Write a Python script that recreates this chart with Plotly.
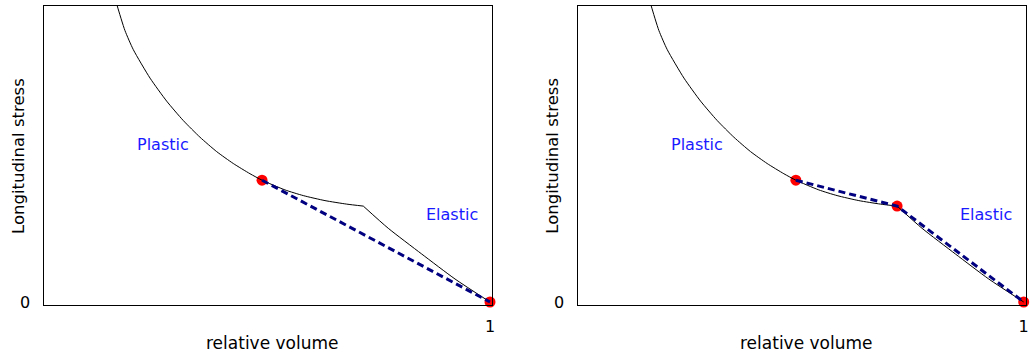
import plotly.graph_objects as go

# Stress–volume Hugoniot: plastic branch (compressed side) and elastic branch
plastic_volume = [0.6617, 0.6655, 0.6724, 0.6799, 0.6949, 0.7098, 0.7247, 0.7397, 0.7547,
                  0.7696, 0.7846, 0.7954, 0.8160, 0.8324, 0.8519, 0.8714, 0.8863]
plastic_stress = [1.0541, 1.0, 0.9169, 0.8524, 0.7564, 0.6787, 0.6132, 0.5568, 0.5081,
                  0.4679, 0.4334, 0.4115, 0.3787, 0.3595, 0.3426, 0.3307, 0.3240]

elastic_volume = [0.8863, 0.9087, 0.9387, 0.9686, 1.0]
elastic_stress = [0.3240, 0.2490, 0.1622, 0.0777, 0.0]

# Named states on the Hugoniot
initial_state = (1.0, 0.0)
yield_state = (0.8863, 0.3240)
shocked_state = (0.7954, 0.4115)

# Rayleigh lines: single overdriven shock (left) and two-wave structure (right)
rayleigh_single = [shocked_state, initial_state]
rayleigh_split = [shocked_state, yield_state, initial_state]

points_single = [shocked_state, initial_state]
points_split = [shocked_state, yield_state, initial_state]

region_labels = ["Plastic", "Elastic"]
region_pos = [(0.7068, 0.533), (0.9661, 0.296)]

x_range = [0.6, 1.00206]
y_range = [-0.0101, 1.0]

W, H = 1032, 356
FONT = "DejaVu Sans"
NAVY = "#000080"

fig = go.Figure()

panels = [
    ("x", "y", rayleigh_single, points_single),
    ("x2", "y2", rayleigh_split, points_split),
]

for xa, ya, ray, pts in panels:
    fig.add_trace(go.Scatter(
        x=[p[0] for p in pts], y=[p[1] for p in pts], mode="markers",
        marker=dict(color="red", size=11, line=dict(width=0)),
        xaxis=xa, yaxis=ya, showlegend=False, cliponaxis=False))
    fig.add_trace(go.Scatter(
        x=plastic_volume, y=plastic_stress, mode="lines",
        line=dict(color="black", width=1, shape="spline", smoothing=0.6),
        xaxis=xa, yaxis=ya, showlegend=False))
    fig.add_trace(go.Scatter(
        x=elastic_volume, y=elastic_stress, mode="lines",
        line=dict(color="black", width=1, shape="spline", smoothing=0.6),
        xaxis=xa, yaxis=ya, showlegend=False))
    fig.add_trace(go.Scatter(
        x=[p[0] for p in ray], y=[p[1] for p in ray], mode="lines",
        line=dict(color=NAVY, width=3, dash="7px,4px"),
        xaxis=xa, yaxis=ya, showlegend=False, cliponaxis=False))
    for text, (tx, ty) in zip(region_labels, region_pos):
        fig.add_annotation(x=tx, y=ty, xref=xa, yref=ya, text=text, showarrow=False,
                           xanchor="center", yanchor="middle",
                           font=dict(family=FONT, size=16, color="#1a1aff"))

axis_common = dict(showgrid=False, zeroline=False, showline=True, mirror=True,
                   linecolor="black", linewidth=1, ticks="", automargin=False,
                   tickfont=dict(family=FONT, size=16, color="black"))

y_dom = [1 - 305 / H, 1 - 6 / H]
fig.update_layout(
    width=W, height=H, margin=dict(l=0, r=0, t=0, b=0, autoexpand=False),
    plot_bgcolor="white", paper_bgcolor="white",
    xaxis=dict(domain=[44.3 / W, 492.3 / W], range=x_range, tickvals=[1], ticktext=["1"],
               ticklabelstandoff=7, anchor="y", **axis_common),
    yaxis=dict(domain=y_dom, range=y_range, tickvals=[0], ticktext=["0"],
               ticklabelstandoff=10, anchor="x", **axis_common),
    xaxis2=dict(domain=[578.3 / W, 1026 / W], range=x_range, tickvals=[1], ticktext=["1"],
                ticklabelstandoff=7, anchor="y2", **axis_common),
    yaxis2=dict(domain=y_dom, range=y_range, tickvals=[0], ticktext=["0"],
                ticklabelstandoff=10, anchor="x2", **axis_common),
)

# Axis titles for both panels
for cx, ly in [(272 / W, 18 / W), (806 / W, 551.7 / W)]:
    fig.add_annotation(x=cx, y=1 - 343 / H, xref="paper", yref="paper",
                       xanchor="center", yanchor="middle",
                       text="relative volume", showarrow=False,
                       font=dict(family=FONT, size=17, color="black"))
    fig.add_annotation(x=ly, y=1 - 156 / H, xref="paper", yref="paper",
                       xanchor="center", yanchor="middle",
                       text="Longitudinal stress", showarrow=False, textangle=-90,
                       font=dict(family=FONT, size=16.5, color="black"))

fig.write_html("out.html")
